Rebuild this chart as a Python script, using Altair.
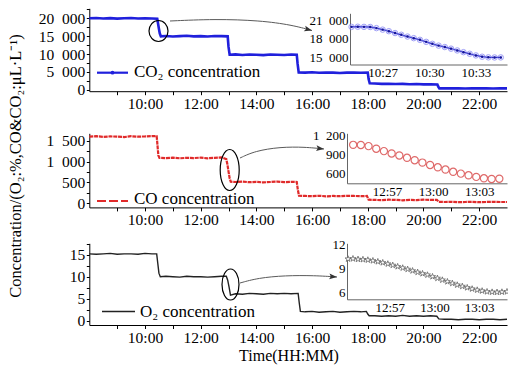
import altair as alt
import pandas as pd

W, H = 508, 371
FONT = "Liberation Serif"

# ---------------- data ----------------
co2_t = [8.0, 8.25, 8.5, 8.75, 9.0, 9.25, 9.5, 9.75, 10.0, 10.25, 10.44,
         10.47, 10.5, 10.53, 10.57, 10.75, 11.0, 11.25, 11.5, 11.75, 12.0, 12.25, 12.5, 12.75, 12.97,
         13.0, 13.04, 13.25, 13.5, 13.75, 14.0, 14.25, 14.5, 14.75, 15.0, 15.25, 15.45,
         15.48, 15.52, 15.75, 16.0, 16.25, 16.5, 16.75, 17.0, 17.25, 17.5, 17.75, 18.0,
         18.03, 18.07, 18.25, 18.5, 18.75, 19.0, 19.25, 19.5, 19.75, 20.0, 20.25, 20.5,
         20.53, 20.57, 20.75, 21.0, 21.25, 21.5, 21.75, 22.0, 22.25, 22.5, 22.75, 23.0]
co2_v = [20000, 20100, 19950, 20050, 19900, 20000, 20100, 19950, 20000, 19950, 19900,
         18500, 17100, 15800, 14950, 15050, 14900, 15000, 15100, 14950, 15000, 14900, 15050, 15000, 14950,
         12000, 9800, 9900, 9750, 9850, 9800, 9700, 9850, 9800, 9750, 9850, 9800,
         7300, 4850, 4800, 4900, 4750, 4850, 4800, 4700, 4800, 4850, 4750, 4800,
         3000, 1800, 1750, 1650, 1700, 1600, 1650, 1550, 1600, 1500, 1550, 1500,
         900, 400, 420, 380, 400, 350, 420, 380, 400, 360, 380, 400]

co_t = [8.0, 8.25, 8.5, 8.75, 9.0, 9.25, 9.5, 9.75, 10.0, 10.25, 10.42, 10.45, 10.48, 10.52,
        10.75, 11.0, 11.25, 11.5, 11.75, 12.0, 12.25, 12.5, 12.75, 12.92, 12.96, 13.0, 13.04, 13.08,
        13.25, 13.5, 13.75, 14.0, 14.25, 14.5, 14.75, 15.0, 15.25, 15.45, 15.49, 15.53,
        15.75, 16.0, 16.25, 16.5, 16.75, 17.0, 17.25, 17.5, 17.75, 17.97, 18.03,
        18.25, 18.5, 18.75, 19.0, 19.25, 19.5, 19.75, 20.0, 20.25, 20.48, 20.55,
        20.75, 21.0, 21.25, 21.5, 21.75, 22.0, 22.25, 22.5, 22.75, 23.0]
co_v = [1600, 1610, 1595, 1605, 1600, 1590, 1610, 1600, 1605, 1615, 1610, 1380, 1150, 1090,
        1085, 1095, 1080, 1090, 1085, 1095, 1080, 1090, 1100, 1060, 930, 760, 600, 515,
        510, 520, 505, 515, 500, 510, 520, 505, 515, 510, 320, 180,
        175, 170, 180, 165, 175, 170, 180, 175, 170, 175, 85,
        80, 75, 85, 80, 70, 80, 75, 85, 80, 80, 35,
        30, 35, 25, 30, 35, 25, 30, 35, 30, 30]

o2_t = [8.0, 8.25, 8.5, 8.75, 9.0, 9.25, 9.5, 9.75, 10.0, 10.25, 10.42, 10.46, 10.5, 10.55,
        10.75, 11.0, 11.25, 11.5, 11.75, 12.0, 12.25, 12.5, 12.75, 12.92, 12.97, 13.02, 13.07,
        13.25, 13.5, 13.75, 14.0, 14.25, 14.5, 14.75, 15.0, 15.25, 15.5, 15.54, 15.58,
        15.75, 16.0, 16.25, 16.5, 16.75, 17.0, 17.25, 17.5, 17.75, 17.95, 18.0, 18.05,
        18.25, 18.5, 18.75, 19.0, 19.25, 19.5, 19.75, 20.0, 20.25, 20.48, 20.55,
        20.75, 21.0, 21.25, 21.5, 21.75, 22.0, 22.25, 22.5, 22.75, 23.0]
o2_v = [15.2, 15.1, 15.2, 15.3, 15.1, 15.2, 15.2, 15.1, 15.3, 15.2, 15.2, 13.0, 10.8, 10.0,
        10.1, 10.0, 9.9, 10.1, 10.0, 10.0, 9.9, 10.0, 10.1, 10.1, 9.2, 7.6, 5.8,
        6.1, 6.0, 6.2, 6.1, 6.0, 6.2, 6.1, 6.2, 6.1, 6.2, 4.0, 2.1,
        2.0, 2.1, 1.9, 2.0, 2.1, 1.9, 2.0, 2.1, 2.0, 2.1, 1.5, 1.1,
        1.1, 1.0, 1.1, 1.0, 1.2, 1.0, 1.1, 1.0, 1.1, 1.0, 0.4,
        0.3, 0.3, 0.2, 0.3, 0.3, 0.2, 0.3, 0.3, 0.2, 0.3]

# insets: time in minutes after midnight
co2_in_t = [625.0, 625.4, 625.8, 626.2, 626.6, 627.0, 627.4, 627.8, 628.2, 628.6, 629.0, 629.4,
            629.8, 630.2, 630.6, 631.0, 631.4, 631.8, 632.2, 632.6, 633.0, 633.4, 633.8, 634.2, 634.6]
co2_in_v = [19900, 19920, 19900, 19880, 19700, 19450, 19200, 18900, 18620, 18330, 18070, 17800,
            17470, 17150, 16860, 16630, 16370, 16080, 15800, 15540, 15270, 15060, 14960, 14940, 14950]

co_in_t = [774.8, 775.3, 775.8, 776.3, 776.8, 777.3, 777.8, 778.3, 778.8, 779.3,
           779.8, 780.3, 780.8, 781.3, 781.8, 782.3, 782.8, 783.3, 783.8, 784.3]
co_in_v = [1050, 1048, 1030, 990, 952, 916, 884, 848, 810, 773,
           736, 700, 665, 630, 601, 575, 550, 528, 518, 522]

o2_in_t = [774.2, 774.53, 774.87, 775.2, 775.53, 775.87, 776.2, 776.53, 776.87, 777.2, 777.53,
           777.87, 778.2, 778.53, 778.87, 779.2, 779.53, 779.87, 780.2, 780.53, 780.87, 781.2,
           781.53, 781.87, 782.2, 782.53, 782.87, 783.2, 783.53, 783.87, 784.2, 784.53, 784.87]
o2_in_v = [10.22, 10.25, 10.18, 10.15, 10.09, 10.0, 9.88, 9.75, 9.59, 9.42, 9.25,
           9.08, 8.91, 8.72, 8.53, 8.36, 8.19, 7.98, 7.77, 7.55, 7.34, 7.13,
           6.92, 6.75, 6.58, 6.42, 6.28, 6.17, 6.07, 6.02, 6.0, 6.03, 6.07]

hour_ticks = [9, 10, 11, 12, 13, 14, 15, 16, 17, 18, 19, 20, 21, 22]
co2_ticks = [0, 2500, 5000, 7500, 10000, 12500, 15000, 17500, 20000, 22500]
co_ticks = [0, 250, 500, 750, 1000, 1250, 1500]
o2_ticks = [0, 2.5, 5, 7.5, 10, 12.5, 15, 17.5]
co2_in_xt = [627, 630, 633]
co_in_xt = [777, 780, 783]
co2_in_yt = [15000, 18000, 21000]
co_in_yt = [600, 900, 1200]
o2_in_yt = [6, 9, 12]

legend_labels = ["CO\u2082 concentration", "CO concentration", "O\u2082 concentration"]
y_title = "Concentration/(O\u2082:%,CO&CO\u2082:\u03bcL\u00b7L\u207b\u00b9)"
x_title = "Time(HH:MM)"

# ---------------- layout (pixels) ----------------
XR = [89.3, 507.0]
XD = [8.0, 23.0]
panels = {
    "co2": dict(yd=[-400, 22800], yr=[91.2, 8.3]),
    "co": dict(yd=[-100, 1680], yr=[207.4, 133.3]),
    "o2": dict(yd=[-1, 17.6], yr=[325.0, 243.3]),
}
insets = {
    "co2": dict(xd=[624.9, 635.0], xr=[350.0, 507.0], yd=[13800, 22100], yr=[64.5, 13.3]),
    "co": dict(xd=[774.4, 784.8], xr=[347.0, 507.0], yd=[450, 1230], yr=[183.3, 133.3]),
    "o2": dict(xd=[774.13, 784.87], xr=[347.0, 507.0], yd=[5.1, 12.2], yr=[299.3, 243.3]),
}

THOUS = "replace(format(datum.value, ',d'), ',', '\u00a0\u00a0')"


def sc(d, r):
    return alt.Scale(domain=d, range=r, nice=False, zero=False)


def main_x_axis(yr):
    return alt.Axis(orient="bottom", offset=yr[0] - H, values=hour_ticks,
                    labelExpr="datum.value % 2 == 0 ? datum.value + ':00' : ''",
                    tickSize=3.5, tickColor="black", domainColor="black", tickWidth=1,
                    labelFont=FONT, labelFontSize=15.5, labelColor="black", labelPadding=2,
                    labelFlush=False, labelOverlap=False, grid=False, title=None)


def main_y_axis(values, major_expr, lab_expr):
    return alt.Axis(orient="left", offset=-XR[0], values=values,
                    labelExpr=f"{major_expr} ? {lab_expr} : ''",
                    tickSize=3, tickColor="black", domainColor="black", tickWidth=1,
                    labelFont=FONT, labelFontSize=15.5, labelColor="black", labelPadding=1.5,
                    labelFlush=False, labelOverlap=False, grid=False, title=None)


def inset_x_axis(yr, values):
    return alt.Axis(orient="bottom", offset=yr[0] - H, values=values,
                    labelExpr="floor(datum.value / 60) + ':' + format(datum.value % 60, '02d')",
                    ticks=False, domainColor="#666", labelFont=FONT, labelFontSize=13,
                    labelColor="black", labelPadding=2, labelFlush=False, labelOverlap=False,
                    grid=False, title=None)


def inset_y_axis(xr, values, lab_expr):
    return alt.Axis(orient="left", offset=-xr[0], values=values, labelExpr=lab_expr,
                    ticks=False, domainColor="#666", labelFont=FONT, labelFontSize=13,
                    labelColor="black", labelPadding=2, labelFlush=False, labelOverlap=False,
                    grid=False, title=None)


layers = []

# main series
main_specs = [
    ("co2", co2_t, co2_v, co2_ticks, "datum.value % 5000 == 0", THOUS,
     dict(color="#2020dc", strokeWidth=2.6)),
    ("co", co_t, co_v, co_ticks, "datum.value % 500 == 0", THOUS,
     dict(color="#e02a2a", strokeWidth=2.2, strokeDash=[4, 0.8])),
    ("o2", o2_t, o2_v, o2_ticks, "datum.value % 5 == 0", "datum.value + ''",
     dict(color="#222222", strokeWidth=1.4)),
]
for key, t, v, ticks, mexpr, lexpr, style in main_specs:
    p = panels[key]
    df = pd.DataFrame({"t": t, "v": v})
    layers.append(
        alt.Chart(df).mark_line(**style).encode(
            x=alt.X("t:Q", scale=sc(XD, XR), axis=main_x_axis(p["yr"])),
            y=alt.Y("v:Q", scale=sc(p["yd"], p["yr"]), axis=main_y_axis(ticks, mexpr, lexpr)),
        )
    )

# inset: CO2
i = insets["co2"]
df = pd.DataFrame({"t": co2_in_t, "v": co2_in_v})
layers.append(alt.Chart(df).mark_line(color="#1a1ab8", strokeWidth=1.3).encode(
    x=alt.X("t:Q", scale=sc(i["xd"], i["xr"]), axis=inset_x_axis(i["yr"], co2_in_xt)),
    y=alt.Y("v:Q", scale=sc(i["yd"], i["yr"]), axis=inset_y_axis(i["xr"], co2_in_yt, THOUS)),
))
layers.append(alt.Chart(df).mark_point(shape="circle", filled=False, color="#7b7bf5",
                                      size=30, strokeWidth=1).encode(
    x=alt.X("t:Q", scale=sc(i["xd"], i["xr"]), axis=None),
    y=alt.Y("v:Q", scale=sc(i["yd"], i["yr"]), axis=None),
))
layers.append(alt.Chart(df).mark_point(shape="cross", filled=True, color="#a8a8f5",
                                      size=18, angle=45, opacity=0.6).encode(
    x=alt.X("t:Q", scale=sc(i["xd"], i["xr"]), axis=None),
    y=alt.Y("v:Q", scale=sc(i["yd"], i["yr"]), axis=None),
))
layers.append(alt.Chart(df).mark_point(shape="circle", filled=True, color="#14149a",
                                      size=6, opacity=1).encode(
    x=alt.X("t:Q", scale=sc(i["xd"], i["xr"]), axis=None),
    y=alt.Y("v:Q", scale=sc(i["yd"], i["yr"]), axis=None),
))

# inset: CO
i = insets["co"]
df = pd.DataFrame({"t": co_in_t, "v": co_in_v})
layers.append(alt.Chart(df).mark_point(shape="circle", filled=False, color="#df6a6a",
                                      size=52, strokeWidth=1.2, opacity=1).encode(
    x=alt.X("t:Q", scale=sc(i["xd"], i["xr"]), axis=inset_x_axis(i["yr"], co_in_xt)),
    y=alt.Y("v:Q", scale=sc(i["yd"], i["yr"]), axis=inset_y_axis(i["xr"], co_in_yt, THOUS)),
))

# inset: O2
STAR = "M0,-1L0.2245,-0.309L0.951,-0.309L0.363,0.118L0.588,0.809L0,0.382L-0.588,0.809L-0.363,0.118L-0.951,-0.309L-0.2245,-0.309Z"
i = insets["o2"]
df = pd.DataFrame({"t": o2_in_t, "v": o2_in_v})
layers.append(alt.Chart(df).mark_line(color="#777777", strokeWidth=0.8).encode(
    x=alt.X("t:Q", scale=sc(i["xd"], i["xr"]), axis=inset_x_axis(i["yr"], co_in_xt)),
    y=alt.Y("v:Q", scale=sc(i["yd"], i["yr"]), axis=inset_y_axis(i["xr"], o2_in_yt, "datum.value + ''")),
))
layers.append(alt.Chart(df).mark_point(shape=STAR, filled=True, fill="white", stroke="#666666",
                                      size=40, strokeWidth=0.8, opacity=1).encode(
    x=alt.X("t:Q", scale=sc(i["xd"], i["xr"]), axis=None),
    y=alt.Y("v:Q", scale=sc(i["yd"], i["yr"]), axis=None),
))

# ---------------- annotations (pixel space) ----------------
PX = dict(scale=None, axis=None)


def ellipse_path(rx):
    return f"M{-rx},0A{rx},1 0 1,1 {rx},0A{rx},1 0 1,1 {-rx},0Z"


ell = pd.DataFrame({
    "x": [158.5, 229.7, 230.5],
    "y": [31.0, 170.0, 284.5],
    "shape": [ellipse_path(19 / 21), ellipse_path(19 / 41), ellipse_path(17 / 31)],
    "size": [21 ** 2, 41 ** 2, 31 ** 2],
})
layers.append(alt.Chart(ell).mark_point(filled=False, color="black", strokeWidth=1.2, opacity=1).encode(
    x=alt.X("x:Q", **PX), y=alt.Y("y:Q", **PX),
    shape=alt.Shape("shape:N", scale=None, legend=None),
    size=alt.Size("size:Q", scale=None, legend=None),
))

arr = pd.DataFrame({
    "id": [0] * 5 + [1] * 5 + [2] * 5,
    "o": list(range(5)) * 3,
    "x": [170, 215, 260, 292, 312, 240, 255, 280, 305, 324, 240, 258, 285, 315, 337],
    "y": [21, 19, 20.5, 25, 30.5, 158, 151, 147, 147, 149, 283, 278, 275.5, 275.5, 277],
})
layers.append(alt.Chart(arr).mark_line(interpolate="basis", color="#5a5a5a", strokeWidth=1).encode(
    x=alt.X("x:Q", **PX), y=alt.Y("y:Q", **PX), detail="id:N", order="o:Q",
))
heads = pd.DataFrame({"x": [312, 324, 337], "y": [30.5, 149, 277], "a": [15, 6, 4]})
layers.append(alt.Chart(heads).mark_point(shape="M0,0L-2,-0.75L-1.6,0L-2,0.75Z", filled=True,
                                         color="#333333", size=60, opacity=1).encode(
    x=alt.X("x:Q", **PX), y=alt.Y("y:Q", **PX), angle=alt.Angle("a:Q", scale=None),
))

# legend samples
leg = pd.DataFrame({"x": [97, 97, 102], "x2": [128, 128, 135], "y": [72.7, 201, 311.5],
                    "c": ["#2020dc", "#e02a2a", "#222222"]})
layers.append(alt.Chart(leg.iloc[[0]]).mark_rule(strokeWidth=2.2).encode(
    x=alt.X("x:Q", **PX), x2="x2:Q", y=alt.Y("y:Q", **PX), color=alt.Color("c:N", scale=None)))
layers.append(alt.Chart(leg.iloc[[1]]).mark_rule(strokeWidth=2, strokeDash=[9, 3]).encode(
    x=alt.X("x:Q", **PX), x2="x2:Q", y=alt.Y("y:Q", **PX), color=alt.Color("c:N", scale=None)))
layers.append(alt.Chart(leg.iloc[[2]]).mark_rule(strokeWidth=1.3).encode(
    x=alt.X("x:Q", **PX), x2="x2:Q", y=alt.Y("y:Q", **PX), color=alt.Color("c:N", scale=None)))
layers.append(alt.Chart(pd.DataFrame({"x": [112.5], "y": [72.7]})).mark_point(
    shape="circle", filled=True, color="#2020dc", size=14, opacity=1).encode(
    x=alt.X("x:Q", **PX), y=alt.Y("y:Q", **PX)))

legtxt = pd.DataFrame({"x": [134, 134, 140], "y": [72, 199, 311.5], "t": legend_labels})
layers.append(alt.Chart(legtxt).mark_text(font=FONT, fontSize=17, align="left", baseline="middle",
                                         color="black").encode(
    x=alt.X("x:Q", **PX), y=alt.Y("y:Q", **PX), text="t:N"))

# axis titles
layers.append(alt.Chart(pd.DataFrame({"x": [16], "y": [166], "t": [y_title]})).mark_text(
    font=FONT, fontSize=16.5, angle=270, align="center", baseline="middle", color="black").encode(
    x=alt.X("x:Q", **PX), y=alt.Y("y:Q", **PX), text="t:N"))
layers.append(alt.Chart(pd.DataFrame({"x": [289], "y": [356], "t": [x_title]})).mark_text(
    font=FONT, fontSize=16, align="center", baseline="middle", color="black").encode(
    x=alt.X("x:Q", **PX), y=alt.Y("y:Q", **PX), text="t:N"))

chart = alt.layer(*layers).resolve_scale(
    x="independent", y="independent", color="independent", shape="independent",
    size="independent", angle="independent"
).resolve_axis(x="independent", y="independent").properties(
    width=W, height=H, autosize=alt.AutoSizeParams(type="none"), padding=0,
    background="white"
).configure_view(stroke=None)

chart.save("out.html", embed_options={"renderer": "svg", "actions": False})
